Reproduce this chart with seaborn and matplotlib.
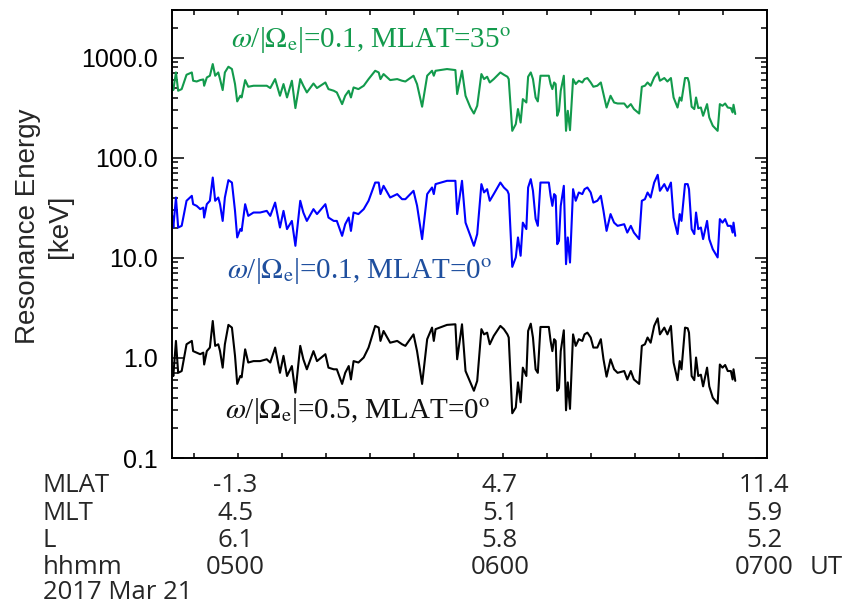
import numpy as np
import pandas as pd
import matplotlib
matplotlib.use("Agg")
import matplotlib.pyplot as plt
import matplotlib.ticker as mticker
from matplotlib.transforms import blended_transform_factory
import seaborn as sns

# time in minutes after 04:00 UT
ut_min = [45.07, 45.3, 45.9, 46.4, 47.2, 48.3, 49.5, 49.8, 50.6, 51.4,
          52.1, 52.3, 52.9, 53.6, 54.25, 54.8, 55.5, 55.9, 56.5, 57.0,
          57.8, 58.6, 59.3, 59.8, 60.5, 60.8, 61.6, 62.3, 63.5, 65.0,
          66.5, 67.3, 68.4, 69.5, 70.3, 71.1, 72.2, 73.0, 74.1, 74.8,
          75.6, 77.1, 77.9, 79.8, 80.5, 81.7, 82.4, 83.6, 84.3, 85.1,
          85.6, 86.2, 87.3, 88.5, 89.6, 91.1, 91.9, 92.3, 93.0, 94.5,
          96.1, 97.2, 97.95, 99.8, 100.6, 101.75, 102.9, 104.0, 104.4, 104.8,
          107.4, 109.3, 109.7, 110.8, 111.6, 112.7, 113.5, 114.25, 115.2, 115.8,
          116.5, 117.1, 118.0, 119.5, 120.3, 121.1, 121.4, 122.2, 123.0, 123.5,
          124.1, 124.6, 125.4, 125.8, 126.4, 126.9, 127.5, 128.0, 128.6, 130.5,
          130.9, 131.3, 131.7, 132.05, 132.4, 132.8, 133.2, 133.9, 134.4, 134.8,
          135.3, 136.0, 136.6, 137.3, 138.1, 138.6, 139.25, 140.0, 140.6, 141.5,
          142.3, 142.9, 143.6, 144.5, 145.3, 146.1, 147.6, 148.3, 149.1, 149.8,
          151.0, 151.6, 152.3, 152.9, 153.6, 154.4, 155.2, 155.7, 156.7, 157.4,
          158.2, 158.8, 159.7, 160.2, 160.6, 161.4, 162.0, 162.3, 162.9, 163.5,
          163.9, 164.4, 165.0, 165.5, 166.4, 166.9, 167.7, 168.8, 169.3, 169.9,
          170.5, 171.1, 171.8, 172.2, 172.4, 172.8]

# w/|Oe| = 0.1, MLAT = 35 deg  [keV]
e_green = [525, 475, 713, 468, 486, 676, 713, 589, 579, 598,
           607, 525, 635, 661, 865, 661, 713, 612, 475, 713,
           813, 771, 546, 366, 417, 401, 598, 513, 525, 525,
           525, 498, 612, 417, 546, 401, 589, 314, 612, 525,
           450, 553, 498, 566, 486, 468, 450, 344, 417, 468,
           401, 505, 486, 525, 612, 741, 713, 612, 687, 598,
           612, 589, 579, 661, 546, 324, 661, 741, 661, 741,
           771, 753, 434, 741, 417, 318, 277, 331, 687, 612,
           646, 566, 612, 713, 676, 646, 612, 186, 217, 307,
           225, 386, 357, 646, 713, 612, 401, 366, 661, 661,
           546, 486, 566, 546, 263, 295, 468, 661, 186, 295,
           189, 612, 546, 589, 566, 612, 627, 566, 513, 525,
           566, 434, 318, 417, 357, 349, 349, 318, 344, 307,
           277, 513, 525, 566, 525, 635, 713, 589, 627, 579,
           627, 401, 318, 401, 372, 627, 627, 566, 324, 307,
           401, 314, 318, 263, 344, 253, 209, 186, 344, 331,
           349, 318, 314, 284, 339, 274]

# w/|Oe| = 0.1, MLAT = 0 deg  [keV]
e_blue = [26.3, 20.1, 40.1, 20.1, 20.9, 37.2, 41.7, 34.4, 33.1, 30.7,
          31.8, 25.3, 34.4, 37.2, 63.5, 37.2, 40.1, 34.4, 23.4, 40.1,
          59.8, 56.6, 29.5, 16.0, 19.4, 18.6, 34.4, 26.3, 28.4, 28.4,
          29.5, 26.3, 35.7, 20.1, 29.5, 19.4, 23.4, 13.2, 37.2, 28.4,
          23.4, 30.7, 27.4, 34.4, 25.3, 23.4, 23.4, 16.6, 21.7, 25.3,
          18.6, 28.4, 27.4, 30.7, 37.2, 56.6, 56.6, 43.4, 52.5, 40.1,
          43.4, 38.6, 38.6, 46.8, 33.1, 15.4, 43.4, 50.5, 43.4, 54.6,
          58.9, 58.9, 27.4, 58.9, 22.5, 16.6, 13.2, 17.3, 54.6, 45.1,
          48.6, 37.2, 43.4, 56.6, 50.5, 46.8, 43.4, 8.13, 10.1, 16.0,
          10.5, 22.5, 19.4, 50.5, 61.2, 46.8, 24.4, 20.9, 56.6, 56.6,
          41.7, 33.1, 43.4, 41.7, 13.7, 14.8, 33.1, 52.5, 8.65, 16.0,
          8.98, 48.6, 37.2, 45.0, 43.4, 48.6, 50.5, 45.0, 35.7, 37.2,
          41.7, 29.5, 18.6, 27.4, 22.5, 20.9, 21.7, 17.9, 20.9, 17.9,
          15.4, 37.2, 38.6, 45.0, 40.1, 56.6, 67.6, 46.8, 54.6, 46.8,
          56.6, 25.3, 17.3, 27.4, 23.4, 54.6, 54.6, 48.6, 19.4, 17.3,
          28.4, 19.4, 20.1, 15.4, 23.4, 15.4, 12.2, 10.1, 24.4, 22.5,
          24.4, 20.9, 20.9, 17.9, 22.5, 16.6]

# w/|Oe| = 0.5, MLAT = 0 deg  [keV]
e_black = [0.80, 0.66, 1.48, 0.71, 0.74, 1.37, 1.48, 1.17, 1.13, 1.09,
           1.13, 0.86, 1.17, 1.27, 2.34, 1.32, 1.37, 1.17, 0.80, 1.37,
           2.14, 2.01, 1.05, 0.55, 0.66, 0.64, 1.22, 0.90, 0.93, 0.93,
           0.97, 0.90, 1.27, 0.71, 1.05, 0.66, 0.83, 0.45, 1.32, 0.97,
           0.77, 1.17, 0.93, 1.09, 0.80, 0.77, 0.77, 0.55, 0.71, 0.83,
           0.61, 0.93, 0.90, 1.01, 1.27, 2.09, 2.01, 1.48, 1.86, 1.42,
           1.48, 1.37, 1.32, 1.72, 1.17, 0.55, 1.54, 2.01, 1.48, 1.94,
           2.14, 2.17, 0.97, 2.17, 0.74, 0.57, 0.47, 0.59, 1.94, 1.72,
           1.79, 1.37, 1.66, 2.09, 1.94, 1.72, 1.60, 0.28, 0.32, 0.57,
           0.36, 0.80, 0.66, 1.86, 2.20, 1.60, 0.77, 0.71, 2.04, 2.04,
           1.48, 1.17, 1.54, 1.48, 0.47, 0.50, 1.17, 1.89, 0.30, 0.57,
           0.31, 1.72, 1.32, 1.54, 1.48, 1.72, 1.79, 1.60, 1.27, 1.27,
           1.54, 0.97, 0.65, 0.97, 0.77, 0.71, 0.74, 0.61, 0.74, 0.61,
           0.55, 1.32, 1.37, 1.60, 1.42, 2.09, 2.49, 1.72, 2.01, 1.72,
           2.09, 0.90, 0.60, 0.93, 0.77, 2.01, 1.98, 1.79, 0.66, 0.60,
           1.01, 0.66, 0.68, 0.52, 0.80, 0.52, 0.40, 0.35, 0.86, 0.80,
           0.85, 0.74, 0.74, 0.61, 0.77, 0.59]

series_labels = [r"$\omega$/|$\Omega_{\mathrm{e}}$|=0.1, MLAT=35$^{\mathrm{o}}$",
                 r"$\omega$/|$\Omega_{\mathrm{e}}$|=0.1, MLAT=0$^{\mathrm{o}}$",
                 r"$\omega$/|$\Omega_{\mathrm{e}}$|=0.5, MLAT=0$^{\mathrm{o}}$"]

# orbit table under the x axis
table_times = [60, 120, 180]
mlat_labels = ["-1.3", "4.7", "11.4"]
mlt_labels = ["4.5", "5.1", "5.9"]
l_labels = ["6.1", "5.8", "5.2"]
hhmm_labels = ["0500", "0600", "0700"]

ytick_vals = [0.1, 1, 10, 100, 1000]
ytick_labels = ["0.1", "1.0", "10.0", "100.0", "1000.0"]

line_colors = {"green": "#129a4c", "blue": "#0000ff", "black": "#000000"}
text_colors = ["#129a4c", "#1f4f9e", "#111111"]

sns.set_style("ticks")
plt.rcParams["font.family"] = ["Liberation Sans", "DejaVu Sans"]
plt.rcParams["mathtext.fontset"] = "stix"

df = pd.DataFrame({
    "ut": ut_min * 3,
    "energy": e_green + e_blue + e_black,
    "wave": ["green"] * len(ut_min) + ["blue"] * len(ut_min) + ["black"] * len(ut_min),
})

fig = plt.figure(figsize=(8.51, 6.06), dpi=100)
ax = fig.add_axes([0.2021, 0.2442, 0.6992, 0.7393])

sns.lineplot(data=df, x="ut", y="energy", hue="wave", palette=line_colors,
             estimator=None, sort=False, legend=False, lw=1.5, ax=ax)

ax.set_yscale("log")
ax.set_ylim(0.1, 3000)
ax.set_xlim(45, 180)
ax.set_yticks(ytick_vals)
ax.set_yticklabels(ytick_labels)
ax.yaxis.set_minor_locator(mticker.LogLocator(base=10, subs=np.arange(2, 10)))
ax.yaxis.set_minor_formatter(mticker.NullFormatter())
ax.set_xticks(np.arange(50, 180, 10))
ax.set_xticklabels([])
ax.set_xlabel("")
ax.set_ylabel("")

ax.tick_params(axis="both", which="both", direction="in", top=True, right=True,
               width=1.1, colors="black")
ax.tick_params(axis="x", which="major", length=3.5)
ax.tick_params(axis="y", which="major", length=8.5, labelsize=18, pad=10)
ax.tick_params(axis="y", which="minor", length=4.3)
for sp in ax.spines.values():
    sp.set_linewidth(1.4)
    sp.set_color("black")

# curve annotations
ann_pos = [(0.099, 0.917), (0.092, 0.402), (0.089, 0.089)]
for lab, (px, py), col in zip(series_labels, ann_pos, text_colors):
    ax.text(px, py, lab, transform=ax.transAxes, color=col, fontsize=21,
            family=["Liberation Serif", "DejaVu Serif"], va="baseline", ha="left")

fig.text(0.052, 0.627, "Resonance Energy\n[keV]", rotation=90, ha="center",
         va="center", multialignment="center", fontsize=20, linespacing=1.3)

# orbit info rows
tr = blended_transform_factory(ax.transData, fig.transFigure)
row_y = [0.1881, 0.1419, 0.0974, 0.0528]
row_names = ["MLAT", "MLT", "L", "hhmm"]
row_vals = [mlat_labels, mlt_labels, l_labels, hhmm_labels]
tfont = ["Open Sans", "DejaVu Sans"]
for name, yy, vals in zip(row_names, row_y, row_vals):
    fig.text(0.0505, yy, name, fontsize=18.5, family=tfont, va="baseline", ha="left")
    for t, v in zip(table_times, vals):
        ax.text(t - 0.6, yy, v, transform=tr, fontsize=18.5, family=tfont,
                va="baseline", ha="center")
fig.text(826 / 851, row_y[3], "UT", fontsize=18.5, family=tfont, va="baseline", ha="center")
fig.text(0.0505, 0.011, "2017 Mar 21", fontsize=18.5, family=tfont, va="baseline", ha="left")

fig.savefig("out.png", dpi=100)
